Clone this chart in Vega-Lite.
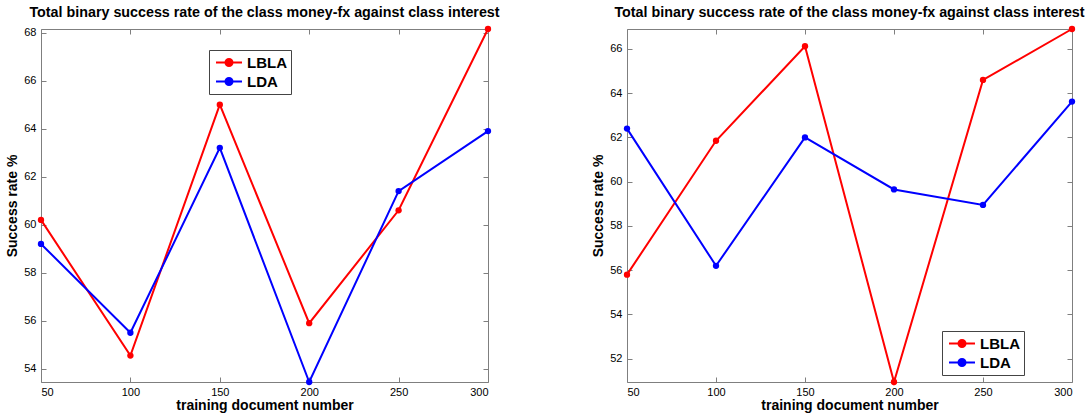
{
  "$schema": "https://vega.github.io/schema/vega-lite/v6.json",
  "padding": {"left": 5, "top": 5, "right": 0, "bottom": 0},
  "background": "white",
  "bounds": "flush",
  "spacing": 139,
  "config": {
    "font": "Liberation Sans",
    "view": {"stroke": "#7f7f7f", "strokeWidth": 1},
    "axis": {
      "domain": false,
      "grid": false,
      "ticks": true,
      "tickColor": "#7f7f7f",
      "tickSize": -5,
      "labelFont": "Liberation Sans",
      "labelFontSize": 11,
      "labelColor": "#000000",
      "labelPadding": 10,
      "titleFont": "Liberation Sans",
      "titleFontSize": 14,
      "titleFontWeight": "bold",
      "titleColor": "#000000"
    },
    "title": {"font": "Liberation Sans", "fontSize": 14.3, "fontWeight": "bold", "color": "#000000", "offset": 5},
    "legend": {
      "title": null,
      "orient": "none",
      "fillColor": "white",
      "strokeColor": "#444444",
      "padding": 4,
      "symbolType": "M-0.733,0H2.733M0.53,0A0.47,0.47,0,1,0,1.47,0A0.47,0.47,0,1,0,0.53,0Z",
      "symbolSize": 225,
      "symbolStrokeWidth": 2,
      "labelFont": "Liberation Sans",
      "labelFontSize": 15,
      "labelFontWeight": "bold",
      "labelColor": "#000000",
      "rowPadding": 2,
      "labelOffset": 17
    }
  },
  "datasets": {
    "rates": [
      {"panel": "A", "n": 50, "method": "LBLA", "rate": 60.2},
      {"panel": "A", "n": 100, "method": "LBLA", "rate": 54.55},
      {"panel": "A", "n": 150, "method": "LBLA", "rate": 65.0},
      {"panel": "A", "n": 200, "method": "LBLA", "rate": 55.9},
      {"panel": "A", "n": 250, "method": "LBLA", "rate": 60.6},
      {"panel": "A", "n": 300, "method": "LBLA", "rate": 68.15},
      {"panel": "A", "n": 50, "method": "LDA", "rate": 59.2},
      {"panel": "A", "n": 100, "method": "LDA", "rate": 55.5},
      {"panel": "A", "n": 150, "method": "LDA", "rate": 63.2},
      {"panel": "A", "n": 200, "method": "LDA", "rate": 53.45},
      {"panel": "A", "n": 250, "method": "LDA", "rate": 61.4},
      {"panel": "A", "n": 300, "method": "LDA", "rate": 63.9},
      {"panel": "B", "n": 50, "method": "LBLA", "rate": 55.8},
      {"panel": "B", "n": 100, "method": "LBLA", "rate": 61.85},
      {"panel": "B", "n": 150, "method": "LBLA", "rate": 66.12},
      {"panel": "B", "n": 200, "method": "LBLA", "rate": 50.95},
      {"panel": "B", "n": 250, "method": "LBLA", "rate": 64.6},
      {"panel": "B", "n": 300, "method": "LBLA", "rate": 66.9},
      {"panel": "B", "n": 50, "method": "LDA", "rate": 62.4},
      {"panel": "B", "n": 100, "method": "LDA", "rate": 56.2},
      {"panel": "B", "n": 150, "method": "LDA", "rate": 62.0},
      {"panel": "B", "n": 200, "method": "LDA", "rate": 59.65},
      {"panel": "B", "n": 250, "method": "LDA", "rate": 58.95},
      {"panel": "B", "n": 300, "method": "LDA", "rate": 63.62}
    ]
  },
  "resolve": {"legend": {"color": "independent"}, "scale": {"y": "independent"}},
  "hconcat": [
    {
      "width": 447,
      "height": 353,
      "title": {"text": "Total binary success rate of the class money-fx against class interest"},
      "data": {"name": "rates"},
      "transform": [{"filter": "datum.panel == 'A'"}],
      "resolve": {"axis": {"x": "independent", "y": "independent"}},
      "layer": [
        {
          "mark": {"type": "line", "strokeWidth": 2, "point": {"filled": true, "size": 40}},
          "encoding": {
            "x": {"field": "n", "type": "quantitative", "scale": {"domain": [50, 300], "nice": false, "zero": false},
                  "axis": {"orient": "bottom", "values": [50, 100, 150, 200, 250, 300], "title": "training document number", "titlePadding": 1, "labelPadding": 9}},
            "y": {"field": "rate", "type": "quantitative", "scale": {"domain": [53.45, 68.15], "nice": false, "zero": false},
                  "axis": {"orient": "left", "values": [54, 56, 58, 60, 62, 64, 66, 68], "title": "Success rate %", "titlePadding": 4}},
            "color": {"field": "method", "type": "nominal", "scale": {"domain": ["LBLA", "LDA"], "range": ["#ff0000", "#0000ff"]},
                      "legend": {"legendX": 168, "legendY": 21,
                                 "encode": {"symbols": {"update": {"fill": {"signal": "datum.value == 'LBLA' ? '#ff0000' : '#0000ff'"}}}}}}
          }
        },
        {
          "mark": {"type": "point", "opacity": 0},
          "encoding": {
            "x": {"field": "n", "type": "quantitative", "scale": {"domain": [50, 300], "nice": false, "zero": false},
                  "axis": {"orient": "top", "values": [50, 100, 150, 200, 250, 300], "labels": false, "title": null}},
            "y": {"field": "rate", "type": "quantitative", "scale": {"domain": [53.45, 68.15], "nice": false, "zero": false},
                  "axis": {"orient": "right", "values": [54, 56, 58, 60, 62, 64, 66, 68], "labels": false, "title": null}}
          }
        }
      ]
    },
    {
      "width": 445,
      "height": 353,
      "title": {"text": "Total binary success rate of the class money-fx against class interest"},
      "data": {"name": "rates"},
      "transform": [{"filter": "datum.panel == 'B'"}],
      "resolve": {"axis": {"x": "independent", "y": "independent"}},
      "layer": [
        {
          "mark": {"type": "line", "strokeWidth": 2, "point": {"filled": true, "size": 40}},
          "encoding": {
            "x": {"field": "n", "type": "quantitative", "scale": {"domain": [50, 300], "nice": false, "zero": false},
                  "axis": {"orient": "bottom", "values": [50, 100, 150, 200, 250, 300], "title": "training document number", "titlePadding": 1, "labelPadding": 9}},
            "y": {"field": "rate", "type": "quantitative", "scale": {"domain": [50.95, 66.9], "nice": false, "zero": false},
                  "axis": {"orient": "left", "values": [52, 54, 56, 58, 60, 62, 64, 66], "title": "Success rate %", "titlePadding": 4}},
            "color": {"field": "method", "type": "nominal", "scale": {"domain": ["LBLA", "LDA"], "range": ["#ff0000", "#0000ff"]},
                      "legend": {"legendX": 315, "legendY": 302,
                                 "encode": {"symbols": {"update": {"fill": {"signal": "datum.value == 'LBLA' ? '#ff0000' : '#0000ff'"}}}}}}
          }
        },
        {
          "mark": {"type": "point", "opacity": 0},
          "encoding": {
            "x": {"field": "n", "type": "quantitative", "scale": {"domain": [50, 300], "nice": false, "zero": false},
                  "axis": {"orient": "top", "values": [50, 100, 150, 200, 250, 300], "labels": false, "title": null}},
            "y": {"field": "rate", "type": "quantitative", "scale": {"domain": [50.95, 66.9], "nice": false, "zero": false},
                  "axis": {"orient": "right", "values": [52, 54, 56, 58, 60, 62, 64, 66], "labels": false, "title": null}}
          }
        }
      ]
    }
  ]
}
